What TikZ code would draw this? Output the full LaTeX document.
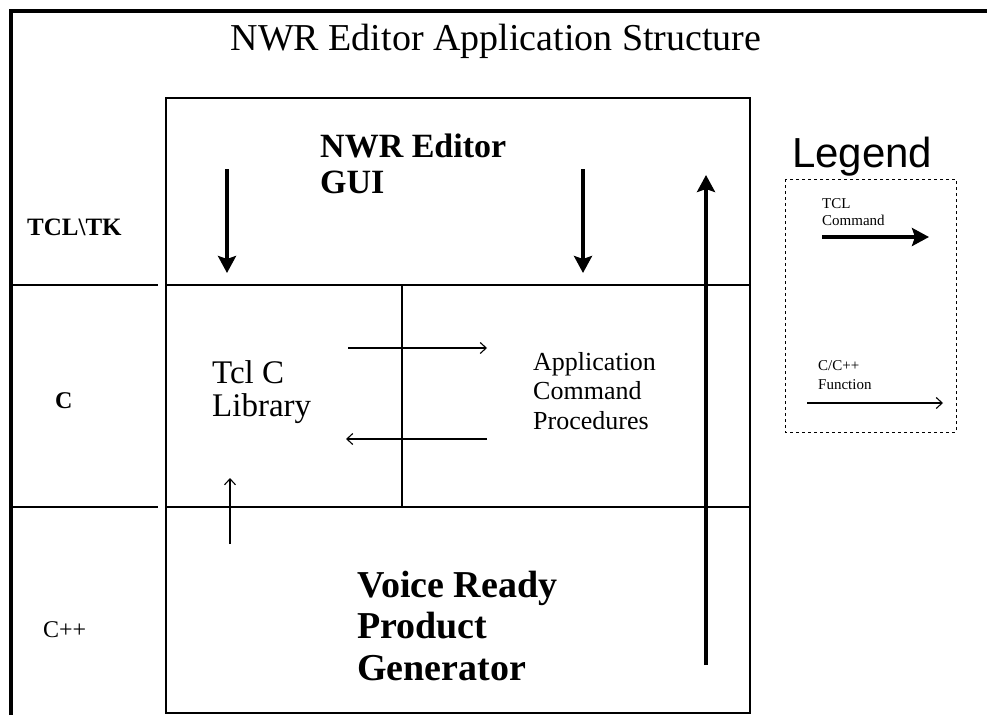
\documentclass[tikz,border=0pt]{standalone}
\usepackage{fontspec}
\setmainfont{Liberation Serif}
\newfontfamily\legendfont{Liberation Sans}
\usetikzlibrary{arrows.meta}

\begin{document}
\begin{tikzpicture}[x=1pt,y=-1pt,
    fatarrow/.style={line width=4pt,-{Stealth[length=17pt,width=18pt,inset=3pt]}},
    slimarrow/.style={line width=1.1pt,-{Straight Barb[length=6pt,width=11pt]}},
    lbl/.style={anchor=base west,inner sep=0pt,align=left}]
  \useasboundingbox (0,0) rectangle (987,715);

  % outer frame and title
  \draw[line width=4pt] (11,715) -- (11,11) -- (987,11);
  \node[anchor=base,inner sep=0pt,font=\fontsize{38}{46}\selectfont] (title) at (496,50) {NWR Editor Application Structure};

  % layers
  \draw[line width=1.5pt] (166,98) rectangle (750,713);
  \draw[line width=2.5pt] (166,285) -- (750,285);
  \draw[line width=1.5pt] (166,507) -- (750,507);
  \draw[line width=1.5pt] (402,285) -- (402,507);
  \draw[line width=1.5pt] (12,285) -- (158,285);
  \draw[line width=1.5pt] (12,507) -- (158,507);

  % language column
  \node[lbl,font=\fontsize{25}{30}\selectfont\bfseries] (tcltk) at (27,235) {TCL\textbackslash TK};
  \node[lbl,font=\fontsize{24}{29}\selectfont\bfseries] (clang) at (55,408) {C};
  \node[lbl,font=\fontsize{24}{29}\selectfont] (cpp) at (43,637) {C++};

  % layer contents (anchored on last baseline)
  \node[lbl,font=\fontsize{34}{36}\selectfont\bfseries] (gui) at (320,193) {NWR Editor\\GUI};
  \node[lbl,font=\fontsize{33}{33}\selectfont] (tcllib) at (212,416) {Tcl C\\Library};
  \node[lbl,font=\fontsize{26}{29.5}\selectfont] (appcmd) at (533,429) {Application\\Command\\Procedures};
  \node[lbl,font=\fontsize{38}{41.5}\selectfont\bfseries] (vrpg) at (357,680) {Voice Ready\\Product\\Generator};

  % arrow ends
  \coordinate (gui1) at (227,169);
  \coordinate (lib1) at (227,273);
  \coordinate (gui2) at (583,169);
  \coordinate (lib2) at (583,273);
  \coordinate (gen1) at (706,665);
  \coordinate (gui3) at (706,175);
  \coordinate (call1) at (348,348);
  \coordinate (proc1) at (487,348);
  \coordinate (proc2) at (487,439);
  \coordinate (call2) at (346,439);
  \coordinate (gen2) at (230,544);
  \coordinate (lib3) at (230,478);

  \draw[fatarrow] (gui1) -- (lib1);
  \draw[fatarrow] (gui2) -- (lib2);
  \draw[fatarrow] (gen1) -- (gui3);
  \draw[slimarrow] (call1) -- (proc1);
  \draw[slimarrow] (proc2) -- (call2);
  \draw[slimarrow] (gen2) -- (lib3);

  % legend
  \node[lbl,font=\fontsize{42}{48}\selectfont\legendfont] (legend) at (792,167) {Legend};
  \draw[dashed,line width=1pt] (785,179) rectangle (956,432);
  \node[lbl,font=\fontsize{15}{17}\selectfont] (tclkey) at (822,225) {TCL\\Command};
  \node[lbl,font=\fontsize{15}{19}\selectfont] (cfkey) at (818,389) {C/C++\\Function};
  \coordinate (tcl1) at (822,237);
  \coordinate (tcl2) at (929,237);
  \coordinate (cf1) at (807,403);
  \coordinate (cf2) at (943,403);
  \draw[fatarrow] (tcl1) -- (tcl2);
  \draw[slimarrow] (cf1) -- (cf2);
\end{tikzpicture}
\end{document}
